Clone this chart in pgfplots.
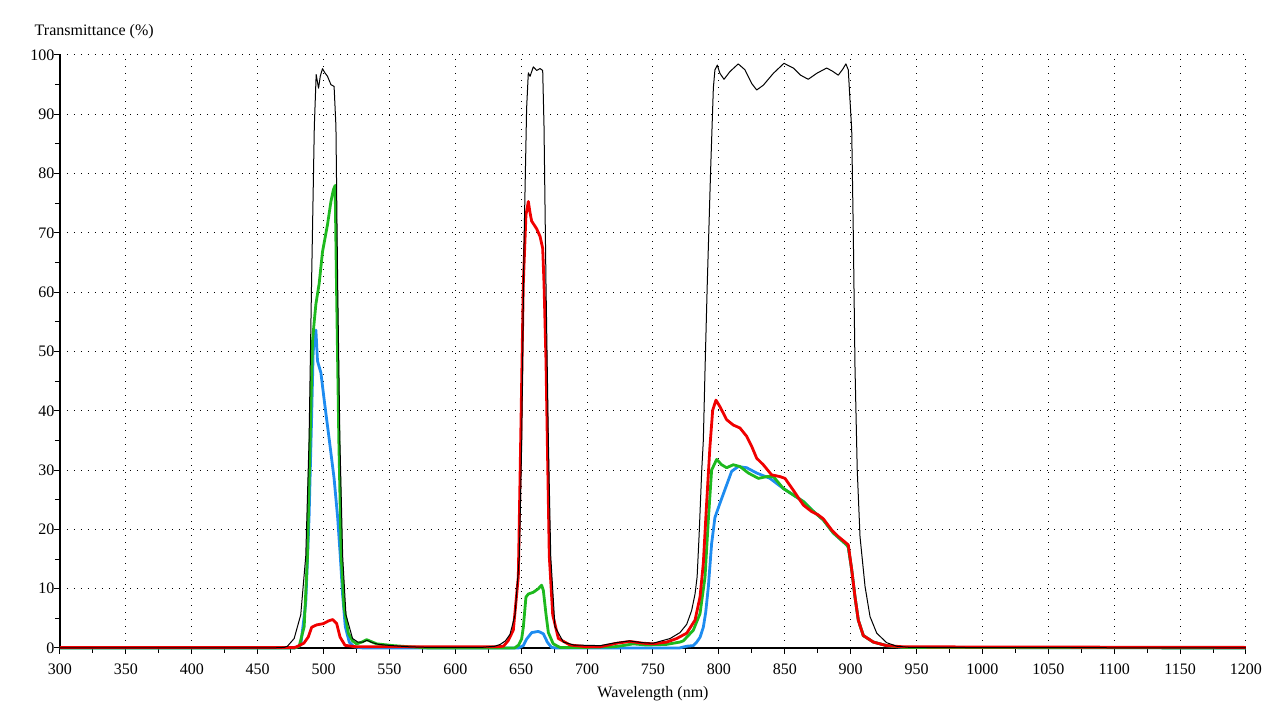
\documentclass[border=0pt]{standalone}
\usepackage{fontspec}
\setmainfont{Liberation Serif}
\usepackage{pgfplots}
\pgfplotsset{compat=1.18}
\definecolor{cRed}{RGB}{240,0,0}
\definecolor{cGreen}{RGB}{30,185,30}
\definecolor{cBlue}{RGB}{30,140,240}
\begin{document}
\fontsize{8}{9.6}\selectfont
\begin{tikzpicture}
\path[use as bounding box] (-30pt,-31.5pt) rectangle (610pt,324pt);
\begin{axis}[
  at={(0,0)}, anchor=south west,
  scale only axis, width=593pt, height=296.5pt,
  xmin=300, xmax=1200, ymin=0, ymax=100,
  xtick={300,350,...,1200}, ytick={0,10,...,100},
  minor x tick num=1, minor y tick num=1,
  axis x line*=bottom, axis y line*=left,
  axis line style={-, black, line width=0.6pt},
  every outer x axis line/.append style={-},
  every outer y axis line/.append style={-},
  tick align=outside,
  major tick length=3pt, minor tick length=2.5pt,
  tick style={black, line width=0.5pt},
  grid=major,
  major grid style={black, line width=0.5pt, dash pattern=on 0.5pt off 3pt},
  /pgf/number format/assume math mode=true,
  /pgf/number format/1000 sep={},
  scaled ticks=false,
  tick label style={font=\fontsize{8}{9.6}\selectfont},
  xticklabel style={yshift=-2pt},
  yticklabel style={xshift=3pt},
  every axis y label/.style={at={(axis description cs:0,1)}, anchor=west, xshift=-15.5pt, yshift=11.5pt, font=\fontsize{8}{9.6}\selectfont},
  every axis x label/.style={at={(axis description cs:0.5,0)}, anchor=center, yshift=-23pt, font=\fontsize{8}{9.6}\selectfont},
  ylabel={Transmittance (\%)},
  xlabel={Wavelength (nm)},
  clip=false,
]
% blue
\addplot[cBlue, line width=1.4pt, line join=round] coordinates {
(300,0)(478,0)(482.7,0.5)(486.5,7.6)(489,22)(490.9,38.5)(492.1,49.7)(493.2,53)(494.2,53.6)(495.4,48.4)(498,46.4)(500.5,41.8)(504.3,35.2)(508,28.6)(510.7,22)(512.7,15.5)(514.5,8.9)(516.5,3.6)(519.5,1)(523,0.2)(530,0)(648,0)(651.6,0.4)(654.1,1.5)(658,2.6)(663,2.8)(666.8,2.4)(669.8,1)(673,0.1)(676,0)(770,0)(775.6,0.3)(780.6,0.4)(783.2,1)(785.7,1.8)(788.2,3.5)(790,6)(792,10.3)(794.5,17.6)(797,22)(800.8,24.4)(805.9,27.5)(809.7,29.8)(814.7,30.6)(821.1,30.4)(828.7,29.5)(838.8,28.6)(848.9,26.9)(856.5,25.8)(864.1,24.7)(870.4,23.3)(879.2,21.6)(886.8,19.4)(896.9,17.4)(898.2,17)(900.8,13.2)(903.3,8.6)(905.8,4.7)(909.6,2.1)(917.2,1)(927.3,0.4)(940,0.1)(1200,0)
};
% green
\addplot[cGreen, line width=1.4pt, line join=round] coordinates {
(300,0)(478,0)(481.5,0.3)(485.3,3.6)(487.8,15.5)(489.8,35)(491.6,51.6)(492.9,55)(494.2,58)(496.7,61.5)(499.2,66.8)(503,71.4)(505.6,75.3)(507.5,77.3)(508.8,78)(509.8,61.5)(511.6,35)(513.4,15.5)(515.5,6.9)(518.8,2.5)(522,1.2)(525.1,0.7)(529,1)(532.7,1.4)(536,1.1)(540.3,0.7)(552.9,0.4)(565.5,0.2)(580,0)(645,0)(648,0.5)(650.3,1.5)(651.6,3.5)(653.6,8.6)(655.4,9.1)(659.2,9.4)(663,10)(665.5,10.6)(666.8,9.7)(668.8,5.7)(670.6,2.6)(674.3,0.7)(679.4,0.1)(700,0.1)(720,0.2)(727,0.4)(735,0.7)(745,0.5)(760,0.6)(770.5,1)(773,1.2)(780.6,3)(785.7,5.8)(789.5,12)(792,21.6)(794.5,30)(798.3,31.8)(802.1,30.9)(805.9,30.4)(810.9,30.9)(816,30.6)(822.4,29.5)(830,28.6)(836.3,28.9)(841.4,28.9)(848.9,26.9)(856.5,25.8)(864.1,24.7)(870.4,23.3)(879.2,21.6)(886.8,19.4)(896.9,17.4)(898.2,17)(900.8,13.2)(903.3,8.6)(905.8,4.7)(909.6,2.1)(917.2,1)(927.3,0.4)(940,0.1)(1200,0)
};
% red
\addplot[cRed, line width=1.4pt, line join=round] coordinates {
(300,0.1)(478,0.1)(479.6,0.2)(485,0.8)(488.4,1.85)(491,3.5)(494.8,3.9)(499.8,4.1)(503.6,4.55)(506.9,4.8)(510,4.1)(512.5,1.85)(516.3,0.45)(525,0.2)(630,0.2)(636.5,0.3)(640,1.2)(644,3)(647.8,12)(649.6,35)(651.6,61.5)(653.6,73)(655.4,75.3)(656.7,73.4)(657.9,72)(661.7,70.7)(664.3,69.4)(666.3,67.4)(667.3,61.5)(668.8,48.4)(669.8,35)(671.3,15.5)(673.9,5.6)(678.2,1.6)(687,0.5)(700,0.2)(709.8,0.2)(722.4,0.8)(732.5,1.1)(742.6,0.8)(750.2,0.7)(760.4,1)(768,1.6)(775.6,2.5)(781.9,4.7)(785.7,8.6)(788.2,14.3)(790.7,24.4)(793.2,33.9)(795.3,40.1)(797.8,41.8)(800.8,40.7)(805.9,38.5)(810.9,37.6)(816,37.1)(821.1,35.7)(824.9,34)(828.7,32)(833.7,30.9)(840,29.2)(846.4,28.9)(850.2,28.6)(856.5,26.6)(864.1,24.1)(870.4,23)(875,22.5)(879.2,21.8)(885.6,19.9)(890.6,18.8)(898.2,17.4)(900.8,13.2)(903.3,8.6)(905.8,4.7)(909.6,2.1)(917.2,1)(927.3,0.4)(940,0.2)(1200,0.1)
};
% black
\addplot[black, line width=0.5pt, line join=round] coordinates {
(300,0)(460,0)(470,0.1)(472.6,0.3)(477.7,1.6)(482.7,5.6)(486.5,15.5)(489,35)(490.9,61.5)(493,88)(494.4,96.7)(496.2,94.4)(497.5,96.4)(499.2,97.7)(501,97)(503,96.4)(505.6,95)(508,94.7)(509.4,88)(510.7,61.5)(512.4,35)(514.5,15.5)(517,5.6)(522,1.6)(526,1)(530,1)(533,1.3)(537,0.9)(542,0.6)(552,0.4)(565,0.2)(580,0.1)(620,0.1)(630,0.3)(634,0.6)(638,1.2)(641.5,2.3)(645.3,5.6)(648.6,15.5)(650.4,35)(652.1,68)(654.1,91)(655.4,97)(656.7,96.4)(659.2,98)(661.7,97.4)(664.3,97.7)(666.3,97.4)(667.3,88)(668.8,61.5)(670.6,35)(672.4,15.5)(675.6,3.6)(682,1)(690,0.5)(710,0.4)(722,0.9)(732,1.2)(742,0.9)(750,0.8)(763,1.6)(770.5,2.6)(775.6,4)(779.3,6.3)(781.9,9.1)(783.5,12)(785,19)(787,30)(788.2,35)(789.5,47)(791.2,61.5)(793.8,81)(795.8,94.4)(797,97.5)(798.8,98.3)(800.8,96.9)(803.9,95.9)(808.4,97.2)(814.7,98.5)(819.8,97.5)(824.9,95.2)(828.7,94.1)(833.7,94.9)(841.3,96.9)(849.4,98.6)(856.5,97.8)(862,96.6)(867.8,95.9)(874.2,96.9)(881.8,97.8)(886,97.3)(890.6,96.6)(894,97.6)(896.4,98.5)(898.2,97.5)(899.5,92.4)(900.8,87.4)(902,70)(903.3,47.3)(905,30)(907.1,18.8)(910.9,10.4)(914.7,5.3)(919.8,2.5)(927.3,0.9)(934.9,0.3)(945,0.1)(1200,0)
};
\end{axis}
\end{tikzpicture}
\end{document}
